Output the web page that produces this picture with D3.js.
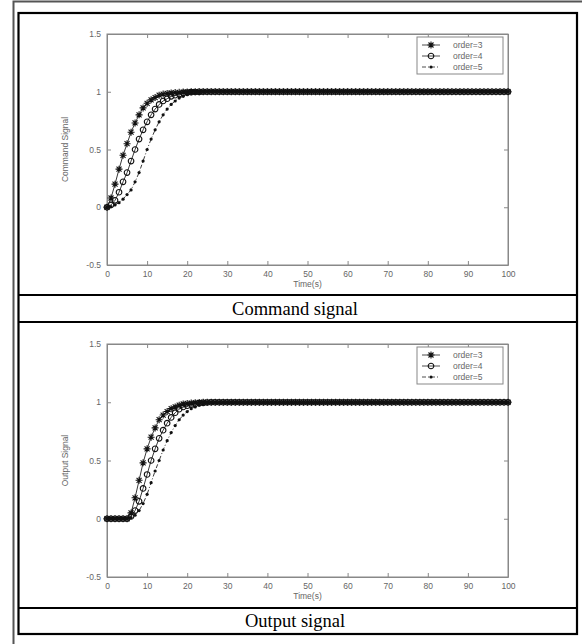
<!DOCTYPE html>
<html>
<head>
<meta charset="utf-8">
<script src="https://cdn.jsdelivr.net/npm/d3@7"></script>
<style>
  body { margin: 0; background: #fff; }
  svg { display: block; }
  .tick text { font-family: 'Liberation Sans', Arial, sans-serif; font-size: 8.5px; fill: #666; }
  .tick line, .domain { stroke: #888; }
</style>
</head>
<body>
<svg width="582" height="644"></svg>
<script>
// sample times (s)
var time = [
  0,1,2,3,4,5,6,7,8,9,
  10,11,12,13,14,15,16,17,18,19,
  20,21,22,23,24,25,26,27,28,29,
  30,31,32,33,34,35,36,37,38,39,
  40,41,42,43,44,45,46,47,48,49,
  50,51,52,53,54,55,56,57,58,59,
  60,61,62,63,64,65,66,67,68,69,
  70,71,72,73,74,75,76,77,78,79,
  80,81,82,83,84,85,86,87,88,89,
  90,91,92,93,94,95,96,97,98,99,
  100];

// command signal
var cmdOrder3 = [
  0,0.08,0.2,0.33,0.45,0.55,0.65,0.73,0.8,0.86,
  0.9,0.93,0.95,0.97,0.98,0.985,0.99,0.993,0.995,0.997,
  0.998,1,1,1,1,1,1,1,1,1,
  1,1,1,1,1,1,1,1,1,1, 1,1,1,1,1,1,1,1,1,1,
  1,1,1,1,1,1,1,1,1,1, 1,1,1,1,1,1,1,1,1,1,
  1,1,1,1,1,1,1,1,1,1, 1,1,1,1,1,1,1,1,1,1,
  1,1,1,1,1,1,1,1,1,1, 1];
var cmdOrder4 = [
  0,0.02,0.06,0.13,0.22,0.3,0.4,0.5,0.59,0.67,
  0.74,0.8,0.85,0.89,0.92,0.94,0.96,0.97,0.98,0.99,
  0.993,0.996,0.998,0.999,1,1,1,1,1,1,
  1,1,1,1,1,1,1,1,1,1, 1,1,1,1,1,1,1,1,1,1,
  1,1,1,1,1,1,1,1,1,1, 1,1,1,1,1,1,1,1,1,1,
  1,1,1,1,1,1,1,1,1,1, 1,1,1,1,1,1,1,1,1,1,
  1,1,1,1,1,1,1,1,1,1, 1];
var cmdOrder5 = [
  0,0.005,0.02,0.04,0.07,0.11,0.15,0.22,0.3,0.4,
  0.5,0.59,0.67,0.74,0.8,0.85,0.89,0.92,0.945,0.96,
  0.975,0.985,0.99,0.994,0.997,0.999,1,1,1,1,
  1,1,1,1,1,1,1,1,1,1, 1,1,1,1,1,1,1,1,1,1,
  1,1,1,1,1,1,1,1,1,1, 1,1,1,1,1,1,1,1,1,1,
  1,1,1,1,1,1,1,1,1,1, 1,1,1,1,1,1,1,1,1,1,
  1,1,1,1,1,1,1,1,1,1, 1];

// output signal
var outOrder3 = [
  0,0,0,0,0,0,0.05,0.18,0.33,0.48,
  0.6,0.7,0.78,0.85,0.89,0.92,0.945,0.96,0.975,0.985,
  0.99,0.993,0.996,0.998,1,1,1,1,1,1,
  1,1,1,1,1,1,1,1,1,1, 1,1,1,1,1,1,1,1,1,1,
  1,1,1,1,1,1,1,1,1,1, 1,1,1,1,1,1,1,1,1,1,
  1,1,1,1,1,1,1,1,1,1, 1,1,1,1,1,1,1,1,1,1,
  1,1,1,1,1,1,1,1,1,1, 1];
var outOrder4 = [
  0,0,0,0,0,0,0.02,0.07,0.15,0.26,
  0.38,0.5,0.6,0.69,0.76,0.82,0.87,0.91,0.94,0.96,
  0.97,0.98,0.987,0.992,0.995,0.998,1,1,1,1,
  1,1,1,1,1,1,1,1,1,1, 1,1,1,1,1,1,1,1,1,1,
  1,1,1,1,1,1,1,1,1,1, 1,1,1,1,1,1,1,1,1,1,
  1,1,1,1,1,1,1,1,1,1, 1,1,1,1,1,1,1,1,1,1,
  1,1,1,1,1,1,1,1,1,1, 1];
var outOrder5 = [
  0,0,0,0,0,0,0.01,0.03,0.07,0.13,
  0.21,0.31,0.41,0.5,0.59,0.67,0.74,0.8,0.85,0.89,
  0.92,0.945,0.96,0.975,0.985,0.99,0.994,0.996,0.998,1,
  1,1,1,1,1,1,1,1,1,1, 1,1,1,1,1,1,1,1,1,1,
  1,1,1,1,1,1,1,1,1,1, 1,1,1,1,1,1,1,1,1,1,
  1,1,1,1,1,1,1,1,1,1, 1,1,1,1,1,1,1,1,1,1,
  1,1,1,1,1,1,1,1,1,1, 1];

var seriesNames = ['order=3', 'order=4', 'order=5'];
var xTicks = [0,10,20,30,40,50,60,70,80,90,100];
var yTicks = [-0.5,0,0.5,1,1.5];
var yTickLabels = ['-0.5','0','0.5','1','1.5'];
var xLabel = 'Time(s)';
var captions = ['Command signal', 'Output signal'];
var yLabels = ['Command Signal', 'Output Signal'];

var svg = d3.select('svg');

// page frame and table rules
svg.append('path').attr('d', 'M13.5,644 V1.5 H582').attr('fill', 'none')
  .attr('stroke', '#555').attr('stroke-width', 2);
svg.append('rect').attr('x', 18.5).attr('y', 13).attr('width', 558.5).attr('height', 621)
  .attr('fill', 'none').attr('stroke', '#000').attr('stroke-width', 2.2);
[295, 322, 608].forEach(yy => {
  svg.append('line').attr('x1', 18).attr('x2', 577).attr('y1', yy).attr('y2', yy)
    .attr('stroke', '#000').attr('stroke-width', 2.2);
});
svg.selectAll('.caption').data([309, 621]).enter().append('text')
  .attr('class', 'caption')
  .attr('x', 295).attr('y', d => d).attr('dy', '0.35em')
  .attr('text-anchor', 'middle')
  .style('font-family', "'Liberation Serif', 'Times New Roman', serif")
  .style('font-size', '18.5px').attr('fill', '#000')
  .text((d, i) => captions[i]);

var x = d3.scaleLinear().domain([0, 100]).range([107, 508]);

var markers = [
  // asterisk
  g => g.append('path').attr('d', 'M-3.5,0H3.5M0,-3.5V3.5M-2.5,-2.5L2.5,2.5M-2.5,2.5L2.5,-2.5')
        .attr('stroke', '#111').attr('stroke-width', 1.1).attr('fill', 'none'),
  // circle
  g => g.append('circle').attr('r', 2.8).attr('fill', 'none')
        .attr('stroke', '#111').attr('stroke-width', 1.1),
  // point
  g => g.append('circle').attr('r', 1.6).attr('fill', '#111')
];
var dashes = [null, null, '4,2,1,2'];

var panels = [
  {top: 34, bottom: 265, series: [cmdOrder3, cmdOrder4, cmdOrder5], legendTop: 37},
  {top: 344, bottom: 577, series: [outOrder3, outOrder4, outOrder5], legendTop: 347}
];

panels.forEach((p, pi) => {
  var y = d3.scaleLinear().domain([-0.5, 1.5]).range([p.bottom, p.top]);
  var g = svg.append('g');

  g.append('rect').attr('x', x(0)).attr('y', y(1.5))
    .attr('width', x(100) - x(0)).attr('height', y(-0.5) - y(1.5))
    .attr('fill', '#fff').attr('stroke', '#888');

  g.append('g').attr('transform', `translate(0,${y(-0.5)})`)
    .call(d3.axisBottom(x).tickValues(xTicks).tickSizeInner(-4).tickSizeOuter(0).tickPadding(6));
  g.append('g').attr('transform', `translate(0,${y(1.5)})`)
    .call(d3.axisTop(x).tickValues(xTicks).tickSizeInner(-4).tickSizeOuter(0).tickFormat(''));
  g.append('g').attr('transform', `translate(${x(0)},0)`)
    .call(d3.axisLeft(y).tickValues(yTicks).tickSizeInner(-4).tickSizeOuter(0).tickPadding(6)
      .tickFormat((d, i) => yTickLabels[i]));
  g.append('g').attr('transform', `translate(${x(100)},0)`)
    .call(d3.axisRight(y).tickValues(yTicks).tickSizeInner(-4).tickSizeOuter(0).tickFormat(''));

  g.append('text').attr('x', (x(0) + x(100)) / 2).attr('y', y(-0.5) + 22)
    .attr('text-anchor', 'middle').attr('fill', '#666')
    .style('font-family', "'Liberation Sans', Arial, sans-serif").style('font-size', '8.5px')
    .text(xLabel);
  g.append('text')
    .attr('transform', `translate(68,${y(0.5)}) rotate(-90)`)
    .attr('text-anchor', 'middle').attr('fill', '#666')
    .style('font-family', "'Liberation Sans', Arial, sans-serif").style('font-size', '8.5px')
    .text(yLabels[pi]);

  var line = d3.line().x((d, i) => x(time[i])).y(d => y(d));

  // slowest curve first so the fast one sits on top
  [2, 1, 0].forEach(si => {
    var vals = p.series[si];
    g.append('path').datum(vals)
      .attr('fill', 'none').attr('stroke', '#222').attr('stroke-width', 0.9)
      .attr('stroke-dasharray', dashes[si])
      .attr('d', line);
    var mg = g.append('g');
    vals.forEach((v, i) => {
      markers[si](mg.append('g').attr('transform', `translate(${x(time[i])},${y(v)})`));
    });
  });

  // legend
  var lg = g.append('g').attr('transform', `translate(417,${p.legendTop})`);
  lg.append('rect').attr('width', 86).attr('height', 37)
    .attr('fill', '#fff').attr('stroke', '#888');
  seriesNames.forEach((name, si) => {
    var ly = 8 + si * 11;
    lg.append('line').attr('x1', 5).attr('x2', 23).attr('y1', ly).attr('y2', ly)
      .attr('stroke', '#222').attr('stroke-width', 0.8)
      .attr('stroke-dasharray', dashes[si]);
    markers[si](lg.append('g').attr('transform', `translate(14,${ly})`));
    lg.append('text').attr('x', 36).attr('y', ly).attr('dy', '0.35em')
      .attr('fill', '#666')
      .style('font-family', "'Liberation Sans', Arial, sans-serif").style('font-size', '8.5px')
      .text(name);
  });
});
</script>
</body>
</html>
